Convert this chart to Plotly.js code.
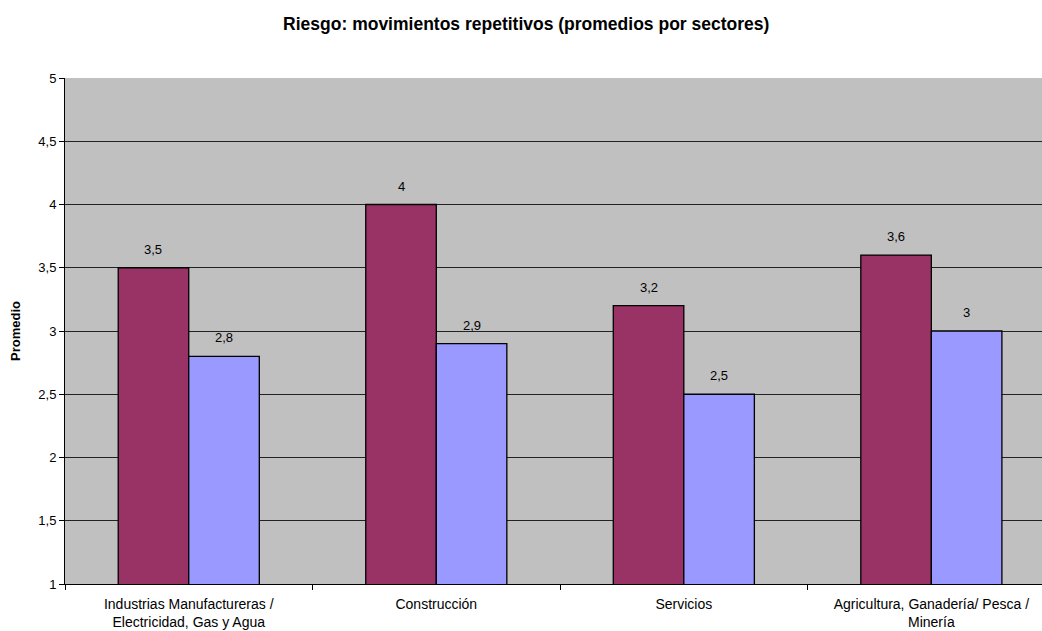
<!DOCTYPE html>
<html><head><meta charset="utf-8">
<script src="https://cdn.plot.ly/plotly-3.0.1.min.js"></script>
<style>html,body{margin:0;padding:0;background:#fff}</style>
</head><body>
<div id="chart" style="width:1042px;height:631px"></div>
<script>
const categories = ["Industrias Manufactureras /<br>Electricidad, Gas y Agua", "Construcción", "Servicios", "Agricultura, Ganadería/ Pesca /<br>Minería"];
const serie1 = [3.5, 4, 3.2, 3.6];
const serie2 = [2.8, 2.9, 2.5, 3];
const fmt = v => String(v).replace('.', ',');
const colors = ['#993366', '#9999FF'];
const series = [serie1, serie2];
const traces = series.map((s, i) => ({type:'bar', x:categories, y:s, name:'Serie ' + (i+1), hoverinfo:'y',
  marker:{color:colors[i], line:{color:'#000', width:1.3}}}));
// data labels as annotations, offset to each bar's centre within the group
const bargap = 0.43;
const plotW = 1042 - 65;
const xRange = [-0.5, 3.447];
const catPx = plotW / (xRange[1] - xRange[0]);
const barPx = catPx * (1 - bargap) / series.length;
const annotations = [];
series.forEach((s, i) => s.forEach((v, j) => annotations.push({
  x: categories[j], y: v, xref:'x', yref:'y', text: fmt(v), showarrow:false,
  xshift: (i - (series.length - 1) / 2) * barPx, yanchor:'bottom', yshift: 9,
  font:{family:'Liberation Sans, Arial, sans-serif', size:13, color:'#000'}
})));
const layout = {
  width:1042, height:631,
  margin:{l:65, r:0, t:78, b:47},
  paper_bgcolor:'#fff', plot_bgcolor:'#C0C0C0',
  separators:', ',
  showlegend:false,
  barmode:'group', bargap:bargap, bargroupgap:0,
  font:{family:'Liberation Sans, Arial, sans-serif', size:13, color:'#000'},
  title:{text:'<b>Riesgo: movimientos repetitivos (promedios por sectores)</b>', x:0.505, xref:'container', xanchor:'center', y:0.962, yanchor:'middle', font:{size:17.5}},
  xaxis:{type:'category', range:xRange, ticks:'outside', tickson:'boundaries', ticklen:5, tickcolor:'#000', showline:true, linecolor:'#000', linewidth:1, tickfont:{size:14}, ticklabelstandoff:7, fixedrange:true},
  yaxis:{range:[1,5], dtick:0.5, tick0:1, ticks:'outside', ticklen:5, tickcolor:'#000', showline:true, linecolor:'#000', linewidth:1,
    showgrid:true, gridcolor:'#222', gridwidth:1, zeroline:false, tickfont:{size:13},
    title:{text:'<b>Promedio</b>', font:{size:13}, standoff:14}},
  annotations: annotations
};
Plotly.newPlot('chart', traces, layout, {displayModeBar:false});
</script>
</body></html>
